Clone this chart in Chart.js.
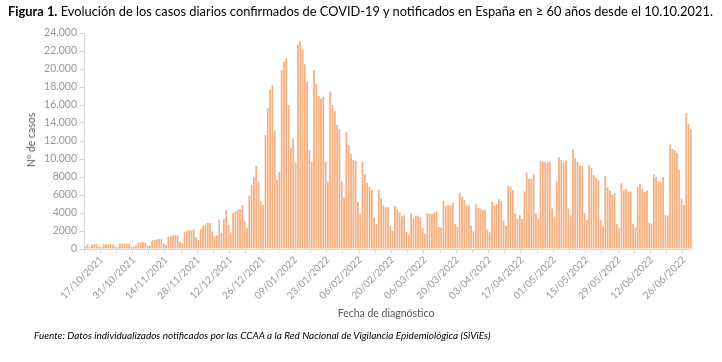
<!DOCTYPE html>
<html>
<head>
<meta charset="utf-8">
<script src="https://cdn.jsdelivr.net/npm/chart.js@4.4.1/dist/chart.umd.min.js"></script>
<style>
  body { margin: 0; background: #fff; }
  #wrap { position: relative; width: 722px; height: 362px; overflow: hidden; font-family: Lato, "Open Sans", sans-serif; }
  #grafico { position: absolute; left: 0; top: 0; }
  .txt { position: absolute; white-space: nowrap; transform-origin: 0 0; }
  #titulo { left: 8px; top: 3px; font-size: 13.5px; color: #000; }
  #ejeY { left: 31px; top: 140px; font-size: 10.5px; color: #595959; transform-origin: 50% 50%; }
  #ejeX { left: 386px; top: 313px; font-size: 10.5px; color: #595959; transform-origin: 50% 50%; }
  #fuente { left: 34px; top: 330px; font-size: 9.5px; font-style: italic; color: #000; }
</style>
</head>
<body>
<div id="wrap">
  <canvas id="grafico" width="722" height="362"></canvas>
  <div class="txt" id="titulo"><b>Figura 1.</b> Evolución de los casos diarios confirmados de COVID-19 y notificados en España en ≥ 60 años desde el 10.10.2021.</div>
  <div class="txt" id="ejeY">Nº de casos</div>
  <div class="txt" id="ejeX">Fecha de diagnóstico</div>
  <div class="txt" id="fuente">Fuente: Datos individualizados notificados por las CCAA a la Red Nacional de Vigilancia Epidemiológica (SiViEs)</div>
</div>
<script>
// casos diarios en >= 60 años, desde el domingo 10/10/2021 (filas de lunes a domingo)
const casos = [
  300,
  520, 200, 480, 550, 540, 300, 220,
  560, 530, 520, 540, 500, 260, 200,
  600, 580, 590, 570, 560, 280, 220,
  380, 700, 720, 740, 700, 420, 330,
  950, 1000, 1050, 1100, 1080, 600, 450,
  1350, 1450, 1500, 1550, 1500, 800, 650,
  1850, 1990, 2050, 2100, 2200, 1300, 1000,
  2200, 2520, 2700, 2890, 2900, 1950, 1400,
  1500, 3260, 1760, 3330, 4300, 2700, 1850,
  4000, 4150, 4370, 4440, 4890, 3070, 2330,
  5930, 7110, 8040, 9220, 7480, 5260, 4890,
  12670, 15630, 17670, 18220, 13150, 7670, 8590,
  19890, 20810, 21180, 16000, 11190, 12300, 9600,
  22700, 23100, 22150, 20520, 18590, 11000, 9700,
  19900, 18300, 17000, 16700, 16900, 9700, 7500,
  17500, 16000, 15300, 13800, 13300, 7500, 5800,
  13000, 11550, 10550, 9900, 9800, 5200, 3950,
  9700, 8300, 7370, 6900, 6550, 3500, 2780,
  6550, 5630, 4850, 4630, 4630, 2550, 2000,
  4780, 4400, 4070, 3630, 3740, 1890, 1630,
  4000, 3400, 3700, 3700, 3550, 2330, 1700,
  4000, 3900, 3930, 4070, 4200, 2440, 2400,
  5370, 4800, 4850, 4850, 5150, 2780, 2440,
  6260, 5820, 5450, 4850, 4850, 2630, 1960,
  4960, 4560, 4480, 4330, 4330, 2180, 1850,
  5220, 4850, 5000, 5520, 5300, 3150, 2590,
  7040, 6930, 6560, 3900, 3330, 3780, 3330,
  6400, 8500, 7800, 7800, 8300, 4000, 3400,
  9800, 9700, 9700, 9600, 9700, 4500, 3600,
  7500, 10200, 9900, 9600, 9800, 4500, 3700,
  11100, 10100, 9700, 9300, 9200, 4000, 3200,
  9300, 9000, 8200, 7900, 7700, 3200, 2500,
  8100, 6850, 6500, 6000, 6200, 2800, 2300,
  7300, 6500, 6650, 6400, 6400, 2800, 2400,
  6900, 7200, 6700, 6300, 6500, 2900, 2800,
  8300, 8000, 7500, 7400, 8000, 3800, 3700,
  11600, 11100, 11000, 10700, 8850, 5600, 4900,
  15100, 13900, 13300
];

const etiquetasEje = ['17/10/2021', '31/10/2021', '14/11/2021', '28/11/2021', '12/12/2021',
  '26/12/2021', '09/01/2022', '23/01/2022', '06/02/2022', '20/02/2022', '06/03/2022',
  '20/03/2022', '03/04/2022', '17/04/2022', '01/05/2022', '15/05/2022', '29/05/2022',
  '12/06/2022', '26/06/2022'];

const ticksY = [0, 2000, 4000, 6000, 8000, 10000, 12000, 14000, 16000, 18000, 20000, 22000, 24000];

const dos = n => String(n).padStart(2, '0');
const fechas = casos.map((_, i) => {
  const d = new Date(2021, 9, 10 + i);
  return dos(d.getDate()) + '/' + dos(d.getMonth() + 1) + '/' + d.getFullYear();
});

function formatoES(v) {
  if (v < 10000) return String(v);
  const s = String(v);
  return s.slice(0, s.length - 3) + '.' + s.slice(-3);
}

const gris = '#d9d9d9';

new Chart(document.getElementById('grafico'), {
  type: 'bar',
  data: {
    labels: fechas,
    datasets: [{
      data: casos,
      backgroundColor: '#F4B183',
      borderWidth: 0,
      barPercentage: 0.78,
      categoryPercentage: 1.0
    }]
  },
  options: {
    responsive: false,
    animation: false,
    devicePixelRatio: 1,
    layout: { padding: { top: 33, right: 30, left: 0, bottom: 0 } },
    plugins: { legend: { display: false }, tooltip: { enabled: false } },
    scales: {
      x: {
        afterFit: s => { s.height = 113; },
        grid: {
          drawOnChartArea: false,
          tickLength: 4,
          color: ctx => (ctx.index % 7 === 0 ? gris : 'rgba(0,0,0,0)')
        },
        border: { display: true, color: gris },
        ticks: {
          autoSkip: false,
          minRotation: 45,
          maxRotation: 45,
          padding: 1,
          color: '#999999',
          font: { family: 'Lato', size: 10 },
          callback: (val, i) => (etiquetasEje.includes(fechas[i]) ? fechas[i] : '')
        }
      },
      y: {
        min: ticksY[0],
        max: ticksY[ticksY.length - 1],
        afterFit: s => { s.width = 84; },
        afterBuildTicks: s => { s.ticks = ticksY.map(v => ({ value: v })); },
        grid: { drawOnChartArea: false, tickLength: 4, color: gris },
        border: { display: true, color: gris },
        ticks: {
          padding: 3,
          color: '#999999',
          font: { family: 'Lato', size: 10.5 },
          callback: v => formatoES(v)
        }
      }
    }
  }
});

// ajustar los textos al ancho del original
function ajustar(id, ancho) {
  const el = document.getElementById(id);
  el.style.transform = 'scaleX(' + (ancho / el.offsetWidth) + ')';
}
ajustar('titulo', 705);
ajustar('fuente', 456);
document.getElementById('ejeY').style.transform = 'translate(-50%,-50%) rotate(-90deg)';
document.getElementById('ejeX').style.transform = 'translate(-50%,-50%)';
</script>
</body>
</html>
